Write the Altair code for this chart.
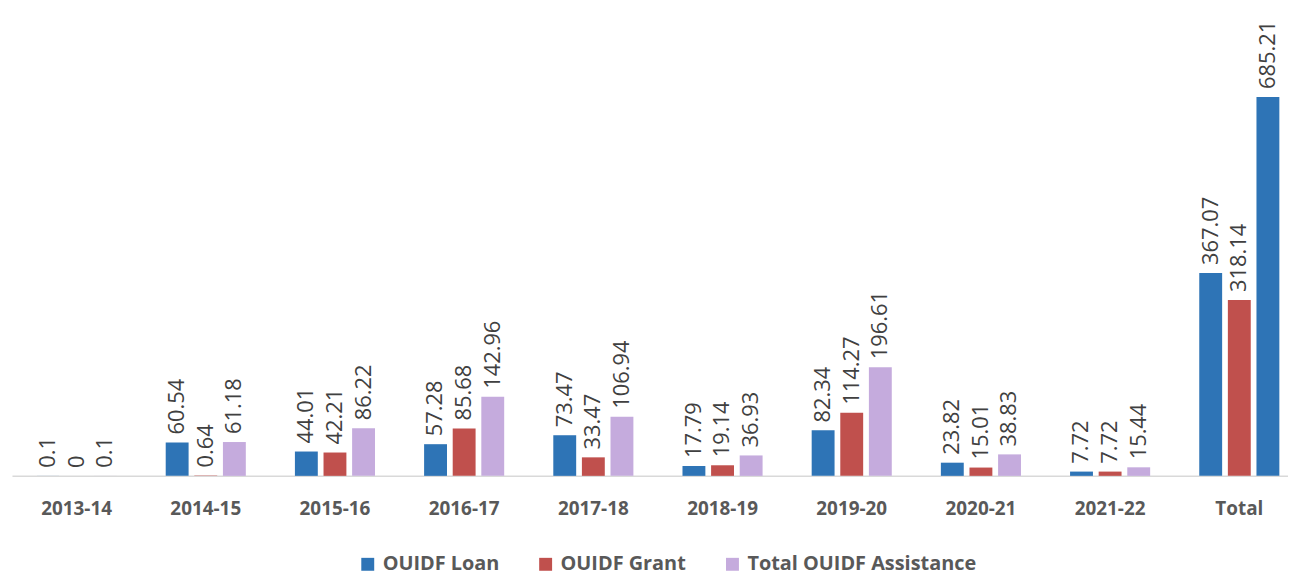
import altair as alt
import pandas as pd

categories = ["2013-14", "2014-15", "2015-16", "2016-17", "2017-18",
              "2018-19", "2019-20", "2020-21", "2021-22", "Total"]
series_names = ["OUIDF Loan", "OUIDF Grant", "Total OUIDF Assistance"]
loan = [0.1, 60.54, 44.01, 57.28, 73.47, 17.79, 82.34, 23.82, 7.72, 367.07]
grant = [0, 0.64, 42.21, 85.68, 33.47, 19.14, 114.27, 15.01, 7.72, 318.14]
total = [0.1, 61.18, 86.22, 142.96, 106.94, 36.93, 196.61, 38.83, 15.44, 685.21]
colors = ["#2E74B6", "#C0504D", "#C5ABDD"]

rows = []
for s, vals in zip(series_names, [loan, grant, total]):
    for c, v in zip(categories, vals):
        rows.append({"cat": c, "series": s, "value": v, "label": f"{v:g}"})
df = pd.DataFrame(rows)

x = alt.X("cat:N", sort=categories, title=None,
          scale=alt.Scale(range=[4, 1304], paddingInner=0.38, paddingOuter=0.19),
          axis=alt.Axis(labelAngle=0, ticks=False, labelPadding=24,
                        labelFont="Open Sans", labelFontSize=19,
                        labelFontWeight="bold", labelColor="#595959",
                        domainColor="#D9D9D9", domainWidth=1.5))
xo = alt.XOffset("series:N", sort=series_names,
                 scale=alt.Scale(domain=series_names, paddingInner=0.2, paddingOuter=0))
y = alt.Y("value:Q", scale=alt.Scale(domain=[0, 843], nice=False), axis=None)

color = alt.condition(
    "datum.cat === 'Total' && datum.series === 'Total OUIDF Assistance'",
    alt.value(colors[0]),
    alt.Color("series:N", sort=series_names,
              scale=alt.Scale(domain=series_names, range=colors),
              legend=alt.Legend(title=None, orient="none", direction="horizontal",
                                legendX=352, legendY=548,
                                symbolType="square", symbolSize=169,
                                symbolStrokeWidth=0, labelOffset=5,
                                labelLimit=0,
                                labelFont="Open Sans", labelFontSize=20,
                                labelFontWeight="bold", labelColor="#595959",
                                columnPadding=36)),
)

bars = alt.Chart(df).mark_bar().encode(x=x, xOffset=xo, y=y, color=color)
labels = alt.Chart(df).mark_text(
    angle=270, align="left", baseline="middle", dx=8,
    font="Open Sans", fontSize=22, color="#404040"
).encode(x=x, xOffset=xo, y=y, text="label:N")

chart = (bars + labels).properties(
    width=1288, height=469,
    autosize=alt.AutoSizeParams(type="none"),
    padding={"left": 0, "top": 0, "right": 0, "bottom": 100},
).configure_view(stroke=None)

chart.save("out.html", embed_options={"renderer": "svg", "actions": False})
